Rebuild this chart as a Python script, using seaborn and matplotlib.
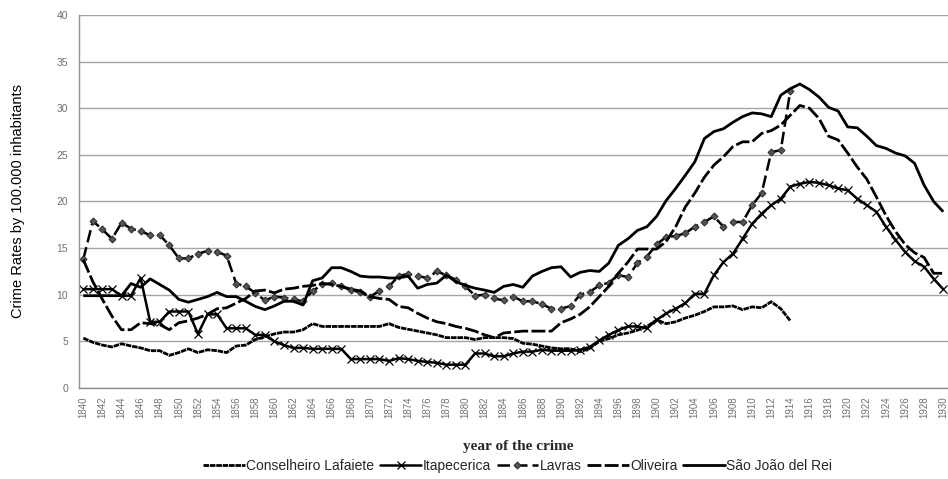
import numpy as np
import pandas as pd
import matplotlib
matplotlib.use("Agg")
import matplotlib.pyplot as plt
from matplotlib.lines import Line2D
import seaborn as sns

years = list(range(1840, 1931))

conselheiro_lafaiete = [
    5.35, 4.9, 4.6, 4.4, 4.75, 4.5, 4.3, 4.0, 4.0, 3.5,
    3.8, 4.2, 3.8, 4.1, 4.0, 3.8, 4.5, 4.6, 5.2, 5.5,
    5.8, 6.0, 6.0, 6.25, 6.9, 6.6, 6.6, 6.6, 6.6, 6.6,
    6.6, 6.6, 6.9, 6.5, 6.3, 6.1, 5.9, 5.7, 5.4, 5.4,
    5.4, 5.2, 5.4, 5.4, 5.4, 5.3, 4.8, 4.7, 4.5, 4.3,
    4.2, 4.2, 3.9, 4.25, 5.0, 5.3, 5.7, 5.9, 6.2, 6.6,
    7.3, 6.9, 7.1, 7.5, 7.8, 8.2, 8.7, 8.7, 8.8, 8.4,
    8.7, 8.6, 9.25, 8.5, 7.2,
] + [np.nan] * 16

itapecerica = [
    10.6, 10.6, 10.6, 10.6, 9.9, 9.9, 11.8, 7.1, 7.1, 8.2,
    8.2, 8.2, 5.8, 7.9, 7.9, 6.4, 6.4, 6.4, 5.7, 5.7,
    5.0, 4.6, 4.3, 4.3, 4.2, 4.2, 4.2, 4.2, 3.1, 3.1,
    3.1, 3.1, 2.9, 3.2, 3.1, 2.9, 2.8, 2.7, 2.5, 2.5,
    2.5, 3.7, 3.7, 3.4, 3.4, 3.7, 3.9, 3.9, 4.1, 4.0,
    4.0, 4.0, 4.1, 4.4, 5.1, 5.7, 6.2, 6.6, 6.6, 6.4,
    7.3, 8.0, 8.5, 9.1, 10.1, 10.1, 12.1, 13.5, 14.4, 16.0,
    17.6, 18.7, 19.6, 20.3, 21.6, 21.9, 22.1, 22.0, 21.75, 21.4,
    21.2, 20.3, 19.6, 18.9, 17.3, 15.9, 14.6, 13.6, 13.0, 11.7,
    10.6,
]

lavras = [
    13.8, 17.9, 17.0, 16.0, 17.7, 17.1, 16.8, 16.4, 16.4, 15.3,
    13.9, 13.9, 14.4, 14.7, 14.6, 14.2, 11.2, 10.9, 10.2, 9.4,
    9.8, 9.7, 9.5, 9.3, 10.4, 11.1, 11.25, 10.9, 10.5, 10.25,
    9.8, 10.4, 10.9, 12.0, 12.25, 12.0, 11.8, 12.5, 12.1, 11.6,
    10.9, 9.9, 10.0, 9.6, 9.4, 9.8, 9.3, 9.3, 9.0, 8.5,
    8.5, 8.8, 10.0, 10.3, 11.0, 11.3, 12.1, 11.9, 13.4, 14.1,
    15.4, 16.2, 16.3, 16.6, 17.3, 17.8, 18.4, 17.3, 17.8, 17.8,
    19.6, 20.9, 25.3, 25.5, 31.9,
] + [np.nan] * 16

oliveira = [
    13.75, 11.4, 9.5, 7.7, 6.25, 6.25, 7.0, 6.9, 6.8, 6.25,
    7.0, 7.2, 7.5, 7.9, 8.5, 8.6, 9.1, 9.6, 10.4, 10.5,
    10.2, 10.6, 10.7, 10.9, 11.0, 11.2, 11.1, 10.9, 10.6, 10.4,
    9.8, 9.6, 9.5, 8.75, 8.6, 8.0, 7.5, 7.1, 6.9, 6.6,
    6.4, 6.1, 5.7, 5.4, 5.9, 6.0, 6.1, 6.1, 6.1, 6.1,
    7.0, 7.4, 7.9, 8.7, 9.8, 10.9, 12.3, 13.5, 14.9, 14.9,
    14.9, 15.7, 17.3, 19.4, 20.9, 22.6, 23.9, 24.8, 25.9, 26.4,
    26.4, 27.3, 27.6, 28.2, 29.25, 30.3, 30.0, 28.9, 27.0, 26.6,
    25.2, 23.7, 22.4, 20.5, 18.5, 16.8, 15.4, 14.5, 14.0, 12.3,
    12.3,
]

sao_joao_del_rei = [
    9.9, 9.9, 9.9, 9.9, 9.9, 11.2, 10.8, 11.7, 11.1, 10.5,
    9.5, 9.2, 9.5, 9.8, 10.25, 9.8, 9.8, 9.3, 8.75, 8.4,
    8.8, 9.3, 9.3, 8.9, 11.5, 11.8, 12.9, 12.9, 12.5, 12.0,
    11.9, 11.9, 11.8, 11.8, 12.0, 10.7, 11.1, 11.25, 12.1, 11.4,
    11.0, 10.7, 10.5, 10.25, 10.9, 11.1, 10.8, 12.0, 12.5, 12.9,
    13.0, 11.9, 12.4, 12.6, 12.5, 13.4, 15.3, 16.0, 16.9, 17.3,
    18.4, 20.1, 21.4, 22.8, 24.25, 26.75, 27.5, 27.8, 28.5, 29.1,
    29.5, 29.4, 29.1, 31.4, 32.1, 32.6, 32.0, 31.2, 30.1, 29.7,
    28.0, 27.9, 27.0, 26.0, 25.7, 25.2, 24.9, 24.1, 21.75, 20.0,
    18.9,
]

series_names = ["Conselheiro Lafaiete", "Itapecerica", "Lavras",
                "Oliveira", "São João del Rei"]

df = pd.DataFrame({
    "year": years,
    "Conselheiro Lafaiete": conselheiro_lafaiete,
    "Itapecerica": itapecerica,
    "Lavras": lavras,
    "Oliveira": oliveira,
    "São João del Rei": sao_joao_del_rei,
})

# line styles per series (all black, as in the original)
styles = {
    "Conselheiro Lafaiete": dict(lw=2.0, dashes=(2.0, 0.3), marker=None),
    "Itapecerica": dict(lw=1.8, marker="x", markersize=6, mew=0.9,
                        mec="black", mfc="black"),
    "Lavras": dict(lw=1.8, dashes=(5, 2), marker="D", markersize=3.5,
                   mfc="#555555", mec="#333333", mew=0.8),
    "Oliveira": dict(lw=2.0, dashes=(5, 1.2), marker=None),
    "São João del Rei": dict(lw=2.0, marker=None),
}

sns.set_style("white")
plt.rcParams["font.family"] = ["Liberation Sans", "DejaVu Sans"]

fig = plt.figure(figsize=(9.48, 4.79), dpi=100)
ax = fig.add_axes([79 / 948, 1 - 388 / 479, 869 / 948, 373 / 479])

handles = []
for name in series_names:
    st = dict(styles[name])
    sub = df[["year", name]].dropna()
    dashes = st.pop("dashes", None)
    sns.lineplot(x=sub["year"], y=sub[name], ax=ax, color="black",
                 solid_capstyle="butt", **st)
    line = ax.lines[-1]
    if dashes is not None:
        line.set_dashes(dashes)
    h = Line2D([], [], color="black", lw=st["lw"],
               marker=st.get("marker"), markersize=st.get("markersize", 0),
               mfc=st.get("mfc", "black"), mec=st.get("mec", "black"),
               mew=st.get("mew", 1))
    if dashes is not None:
        h.set_dashes(dashes)
    handles.append(h)

ax.set_xlim(1839.55, 1930.2)
ax.set_ylim(0, 40)
ax.set_yticks(range(0, 41, 5))
ax.set_xticks(range(1840, 1931, 2))
ax.set_xticks(np.arange(1840.5, 1931, 1), minor=True)
ax.tick_params(axis="x", which="major", length=0, labelsize=7,
               labelcolor="#707070", rotation=90, pad=6)
ax.tick_params(axis="x", which="minor", length=4, color="#909090")
ax.tick_params(axis="y", length=4, color="#909090", labelsize=7.5,
               labelcolor="#707070", pad=4)

ax.grid(axis="y", color="#a6a6a6", lw=1)
ax.set_axisbelow(True)
for s in ["top", "right"]:
    ax.spines[s].set_visible(False)
for s in ["left", "bottom"]:
    ax.spines[s].set_color("#909090")
    ax.spines[s].set_linewidth(1)

ax.set_ylabel("Crime Rates by 100.000 inhabitants", fontsize=10.5,
              color="black")
ax.yaxis.set_label_coords(-0.062, 0.5)
ax.set_xlabel("year of the crime", fontsize=11, fontweight="bold",
              family=["Liberation Serif", "DejaVu Serif"])
ax.xaxis.set_label_coords(0.505, -0.14)

fig.legend(handles, series_names, loc="center", ncol=5,
           bbox_to_anchor=(0.546, 0.027), frameon=False,
           handlelength=3.0, handletextpad=0.1, columnspacing=0.4,
           prop={"family": ["Liberation Sans Narrow", "Liberation Sans"],
                 "size": 10})

fig.savefig("out.png", dpi=100)
